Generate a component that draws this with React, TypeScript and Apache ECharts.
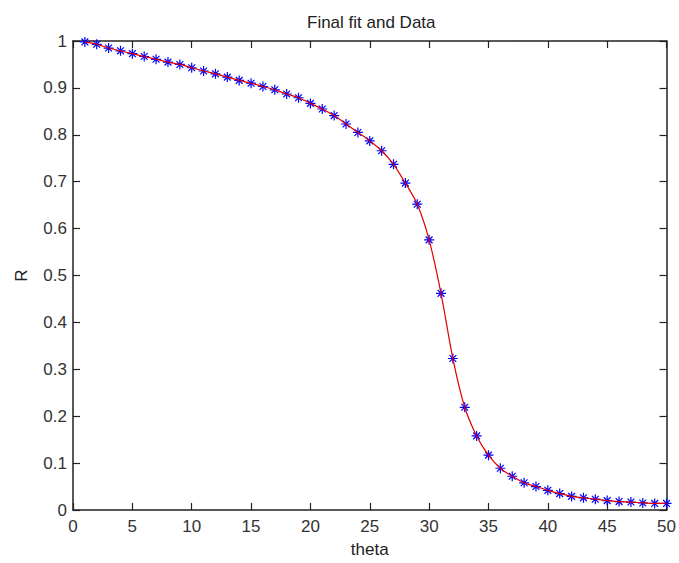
import React, { useEffect, useRef } from "react";
import * as echarts from "echarts";

const theta = [
  1, 2, 3, 4, 5, 6, 7, 8, 9, 10, 11, 12, 13, 14, 15, 16, 17, 18, 19, 20, 21, 22, 23, 24, 25,
  26, 27, 28, 29, 30, 31, 32, 33, 34, 35, 36, 37, 38, 39, 40, 41, 42, 43, 44, 45, 46, 47, 48, 49, 50,
];
const rData = [
  0.998, 0.993, 0.985, 0.979, 0.973, 0.967, 0.961, 0.955, 0.95, 0.943, 0.936, 0.93, 0.923, 0.916,
  0.91, 0.903, 0.896, 0.887, 0.879, 0.867, 0.855, 0.841, 0.823, 0.805, 0.787, 0.766, 0.737, 0.697,
  0.652, 0.576, 0.462, 0.323, 0.219, 0.158, 0.117, 0.089, 0.072, 0.058, 0.05, 0.042, 0.035, 0.029,
  0.026, 0.023, 0.02, 0.018, 0.017, 0.015, 0.014, 0.014,
];
const titleText = "Final fit and Data";
const xName = "theta";
const yName = "R";

const FONT = "'Liberation Sans', Arial, sans-serif";
const AXIS_COLOR = "#222";

export default function App() {
  const ref = useRef<HTMLDivElement>(null);
  useEffect(() => {
    if (!ref.current) return;
    const chart = echarts.init(ref.current, undefined, { renderer: "svg" });
    const pts = theta.map((t, i) => [t, rData[i]]);
    const axisCommon = {
      axisLine: { show: true, onZero: false, lineStyle: { color: AXIS_COLOR, width: 1.5 } },
      axisTick: { show: true, inside: true, length: 7, lineStyle: { color: AXIS_COLOR, width: 1.2 } },
      splitLine: { show: false },
    };
    chart.setOption({
      animation: false,
      backgroundColor: "#fff",
      title: {
        text: titleText,
        left: 302,
        top: 9,
        textStyle: { fontFamily: FONT, fontSize: 17, fontWeight: "normal", color: "#222" },
      },
      grid: { left: 73, top: 41, right: 10, bottom: 53, containLabel: false },
      xAxis: [
        {
          type: "value",
          min: 0,
          max: 50,
          interval: 5,
          position: "bottom",
          name: xName,
          nameLocation: "middle",
          nameGap: 31,
          nameTextStyle: { fontFamily: FONT, fontSize: 17, color: "#222" },
          axisLabel: { fontFamily: FONT, fontSize: 17, color: "#333", margin: 8 },
          ...axisCommon,
        },
        {
          type: "value",
          min: 0,
          max: 50,
          interval: 5,
          position: "top",
          axisLabel: { show: false },
          ...axisCommon,
        },
      ],
      yAxis: [
        {
          type: "value",
          min: 0,
          max: 1,
          interval: 0.1,
          position: "left",
          name: yName,
          nameLocation: "middle",
          nameGap: 43,
          nameTextStyle: { fontFamily: FONT, fontSize: 17, color: "#222" },
          axisLabel: { fontFamily: FONT, fontSize: 17, color: "#333", margin: 6 },
          ...axisCommon,
        },
        {
          type: "value",
          min: 0,
          max: 1,
          interval: 0.1,
          position: "right",
          axisLabel: { show: false },
          ...axisCommon,
        },
      ],
      series: [
        {
          type: "scatter",
          xAxisIndex: 0,
          yAxisIndex: 0,
          data: pts,
          symbol: "path://M5,0L5,10M0,5L10,5M1.6,1.6L8.4,8.4M1.6,8.4L8.4,1.6",
          symbolSize: 10,
          itemStyle: { color: "#0000ff", borderColor: "#0000ff", borderWidth: 1.2, opacity: 1 },
          z: 2,
        },
        {
          type: "line",
          xAxisIndex: 0,
          yAxisIndex: 0,
          data: pts,
          smooth: 0.3,
          showSymbol: false,
          symbol: "none",
          lineStyle: { color: "#e00000", width: 1.2 },
          z: 3,
        },
      ],
    });
    return () => chart.dispose();
  }, []);
  return (
    <div
      ref={ref}
      style={{ position: "absolute", left: 0, top: 0, width: 679, height: 563, background: "#fff" }}
    />
  );
}
